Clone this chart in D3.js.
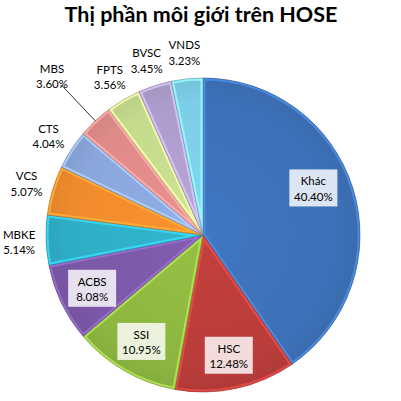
<!DOCTYPE html>
<html><head><meta charset="utf-8">
<script src="https://cdn.jsdelivr.net/npm/d3@7"></script>
<style>
html,body{margin:0;padding:0;background:#fff;}
svg{display:block;}
</style></head>
<body>
<svg id="chart" width="401" height="401"></svg>
<script>
const title = "Thị phần môi giới trên HOSE";
const categories = ["Khác","HSC","SSI","ACBS","MBKE","VCS","CTS","MBS","FPTS","BVSC","VNDS"];
const values = [40.40,12.48,10.95,8.08,5.14,5.07,4.04,3.60,3.56,3.45,3.23];
const labels = ["40.40%","12.48%","10.95%","8.08%","5.14%","5.07%","4.04%","3.60%","3.56%","3.45%","3.23%"];
const colors = ["#3d71b7","#b93d3a","#8db640","#7b58a7","#2fadc6","#f08b2d","#8aa6db","#df8b89","#c4da8c","#ad9dcc","#7ccde6"];
const insideLabels = ["Khác","HSC","SSI","ACBS"];
const leaderLabels = ["MBS"];

const svg = d3.select("#chart");
const cx = 203, cy = 235, R = 157;
const font = "Lato, 'Open Sans', sans-serif";

svg.append("text")
  .attr("x", 201).attr("y", 22)
  .attr("text-anchor","middle")
  .attr("font-family", font).attr("font-weight","bold")
  .attr("font-size", 21.5).attr("fill","#000")
  .text(title);

const data = categories.map((c,i)=>({cat:c, value:values[i], label:labels[i], color:colors[i]}));
const pie = d3.pie().sort(null).value(d=>d.value);
const arcs = pie(data);
const arc = d3.arc().innerRadius(0).outerRadius(R);

const defs = svg.append("defs");
const g = svg.append("g").attr("transform", `translate(${cx},${cy})`);

arcs.forEach((a,i)=>{
  defs.append("clipPath").attr("id","clip"+i)
    .append("path").attr("d", arc(a));
  const grad = defs.append("radialGradient").attr("id","grad"+i)
    .attr("gradientUnits","userSpaceOnUse")
    .attr("cx",0).attr("cy",0).attr("r",R);
  const c = d3.color(a.data.color);
  grad.append("stop").attr("offset","0%").attr("stop-color", c.brighter(0.15));
  grad.append("stop").attr("offset","85%").attr("stop-color", c.formatHex());
  grad.append("stop").attr("offset","100%").attr("stop-color", c.darker(0.15));
});

const slices = g.selectAll("g.slice").data(arcs).join("g").attr("class","slice");
slices.append("path")
  .attr("d", arc)
  .attr("fill", (d,i)=>`url(#grad${i})`);
slices.append("path")
  .attr("d", arc)
  .attr("fill","none")
  .attr("clip-path",(d,i)=>`url(#clip${i})`)
  .attr("stroke", d=>d3.color(d.data.color).brighter(0.7))
  .attr("stroke-opacity",0.8)
  .attr("stroke-width",5);
slices.append("path")
  .attr("d", arc)
  .attr("fill","none")
  .attr("stroke", d=>d3.color(d.data.color).darker(0.9))
  .attr("stroke-opacity",0.7)
  .attr("stroke-width",0.8);

// labels
const inArc = d3.arc().innerRadius(123).outerRadius(123);
const outArc = d3.arc().innerRadius(184).outerRadius(184);
const leadArc = d3.arc().innerRadius(220).outerRadius(220);
const fs = 11.5;

arcs.forEach((a,i)=>{
  const inside = insideLabels.includes(a.data.cat);
  const leader = leaderLabels.includes(a.data.cat);
  let p;
  if (inside) {
    // Excel "best fit": the large first slice's label sits a bit closer to the top
    const ia = i === 0 ? d3.arc().innerRadius(120).outerRadius(120).startAngle(a.startAngle).endAngle(a.endAngle*0.92) : inArc;
    p = i === 0 ? ia.centroid() : ia.centroid(a);
  } else {
    p = leader ? leadArc.centroid(a) : outArc.centroid(a);
  }
  const lg = g.append("g").attr("transform",`translate(${p[0]},${p[1]})`);
  if (inside) {
    lg.append("rect").attr("x",-24).attr("y",-18.5).attr("width",48).attr("height",37)
      .attr("fill","#fff").attr("fill-opacity",0.82);
  }
  const t = lg.append("text").attr("text-anchor","middle")
    .attr("font-family",font).attr("font-size",fs).attr("fill","#000");
  t.append("tspan").attr("x",0).attr("y",-2.5).text(a.data.cat);
  t.append("tspan").attr("x",0).attr("y",13).text(a.data.label);
  if (leader) {
    const mid = (a.startAngle+a.endAngle)/2;
    const p1 = [Math.sin(mid)*R, -Math.cos(mid)*R];
    const p2 = [Math.sin(mid)*205, -Math.cos(mid)*205];
    g.append("polyline")
      .attr("points", [p1, p2, [p2[0]-2, p2[1]]].map(q=>q.join(",")).join(" "))
      .attr("fill","none").attr("stroke","#000").attr("stroke-width",0.8);
  }
});
</script>
</body></html>
